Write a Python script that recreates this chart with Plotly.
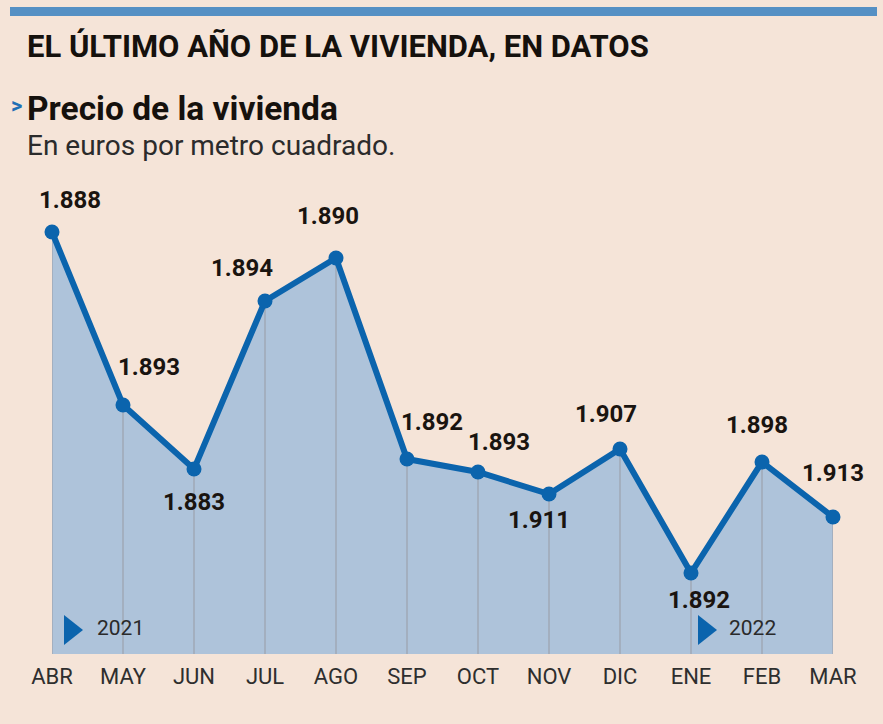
import plotly.graph_objects as go

# ---- data ----
months = ["ABR", "MAY", "JUN", "JUL", "AGO", "SEP", "OCT", "NOV", "DIC", "ENE", "FEB", "MAR"]
# plotted heights as drawn in the picture (arbitrary units above the baseline)
heights = [422, 249, 185, 353, 396, 195, 182, 160, 205, 81, 192, 137]
# printed labels (euros per square metre)
price_labels = ["1.888", "1.893", "1.883", "1.894", "1.890", "1.892",
                "1.893", "1.911", "1.907", "1.892", "1.898", "1.913"]
year_labels = ["2021", "2022"]
year_months = ["ABR", "ENE"]

# ---- layout constants ----
W, H = 883, 724
ML, MR, MT, MB = 52, 50, 170, 70
PW, PH = W - ML - MR, H - MT - MB
# label offsets (px) relative to each point
label_dx = [18, 26, 0, -23, -8, 25, 21, -10, -14, 8, -5, 0]
label_dy = [32, 38, -33, 33, 42, 37, 30, -26, 35, -27, 37, 44]
# year marker offsets (px) relative to the month tick at the baseline
year_tri_dx = [12, 7]
year_txt_dx = [43, 36]

BG = "#f5e4d8"
BLUE = "#0b64ad"
FILL = "#aec3da"
GRID = "#9fa8b6"
FONT = "Roboto, Liberation Sans, sans-serif"

def px(xp):
    return (xp - ML) / PW

def py(yp):
    return (H - MB - yp) / PH

xs = list(range(len(months)))

fig = go.Figure()

# area
fig.add_trace(go.Scatter(x=xs, y=heights, mode="lines", line=dict(width=0, color=FILL),
                         fill="tozeroy", fillcolor=FILL, hoverinfo="skip", showlegend=False))
# vertical grid lines under the curve
gx, gy = [], []
for x, h in zip(xs, heights):
    gx += [x, x, None]
    gy += [0, h, None]
fig.add_trace(go.Scatter(x=gx, y=gy, mode="lines", line=dict(width=1.5, color=GRID),
                         hoverinfo="skip", showlegend=False))
# line + markers
fig.add_trace(go.Scatter(x=xs, y=heights, mode="lines+markers",
                         line=dict(width=6, color=BLUE),
                         marker=dict(size=15, color=BLUE),
                         cliponaxis=False, showlegend=False))

annotations = []
shapes = []
for x, h, t, dx, dy in zip(xs, heights, price_labels, label_dx, label_dy):
    annotations.append(dict(x=x, y=h, xref="x", yref="y", text=f"<b>{t}</b>", showarrow=False,
                            xshift=dx, yshift=dy, xanchor="center", yanchor="middle",
                            font=dict(family=FONT, size=24, color="#1a1410")))

for label, m, tdx, xdx in zip(year_labels, year_months, year_tri_dx, year_txt_dx):
    i = months.index(m)
    shapes.append(dict(type="path", xref="x", yref="y", xsizemode="pixel", ysizemode="pixel",
                       xanchor=i, yanchor=0,
                       path=f"M {tdx} 9 L {tdx} 39 L {tdx + 19} 24 Z",
                       fillcolor=BLUE, line=dict(width=0), layer="above"))
    annotations.append(dict(x=i, y=0, xref="x", yref="y", text=label, showarrow=False,
                            xshift=xdx, yshift=26, xanchor="left", yanchor="middle",
                            font=dict(family=FONT, size=21, color="#2a2a2a")))

# titles
annotations.append(dict(x=px(25), y=py(47), xref="paper", yref="paper", xanchor="left", yanchor="middle",
                        text="<b>EL ÚLTIMO AÑO DE LA VIVIENDA, EN DATOS</b>", showarrow=False,
                        font=dict(family=FONT, size=31, color="#15110d")))
annotations.append(dict(x=px(9), y=py(105), xref="paper", yref="paper", xanchor="left", yanchor="middle",
                        text="<b>&gt;</b>", showarrow=False,
                        font=dict(family=FONT, size=22, color="#1f6fb5")))
annotations.append(dict(x=px(25), y=py(108), xref="paper", yref="paper", xanchor="left", yanchor="middle",
                        text="<b>Precio de la vivienda</b>", showarrow=False,
                        font=dict(family=FONT, size=33.5, color="#15110d")))
annotations.append(dict(x=px(25), y=py(145), xref="paper", yref="paper", xanchor="left", yanchor="middle",
                        text="En euros por metro cuadrado.", showarrow=False,
                        font=dict(family=FONT, size=28, color="#2b2b2b")))

shapes.append(dict(type="rect", xref="paper", yref="paper", x0=px(10), x1=px(877), y0=py(16), y1=py(7),
                   fillcolor="#5590c4", line=dict(width=0), layer="above"))

fig.update_layout(
    width=W, height=H, margin=dict(l=ML, r=MR, t=MT, b=MB),
    paper_bgcolor=BG, plot_bgcolor=BG,
    xaxis=dict(range=[0, len(months) - 1], tickvals=xs, ticktext=months, showgrid=False,
               zeroline=False, showline=False, ticks="", ticklabelstandoff=7,
               tickfont=dict(family=FONT, size=22, color="#2e2e2e"), fixedrange=True),
    yaxis=dict(range=[0, PH], showgrid=False, zeroline=False, showticklabels=False,
               showline=False, fixedrange=True),
    annotations=annotations, shapes=shapes, showlegend=False,
)

fig.write_html("out.html")
